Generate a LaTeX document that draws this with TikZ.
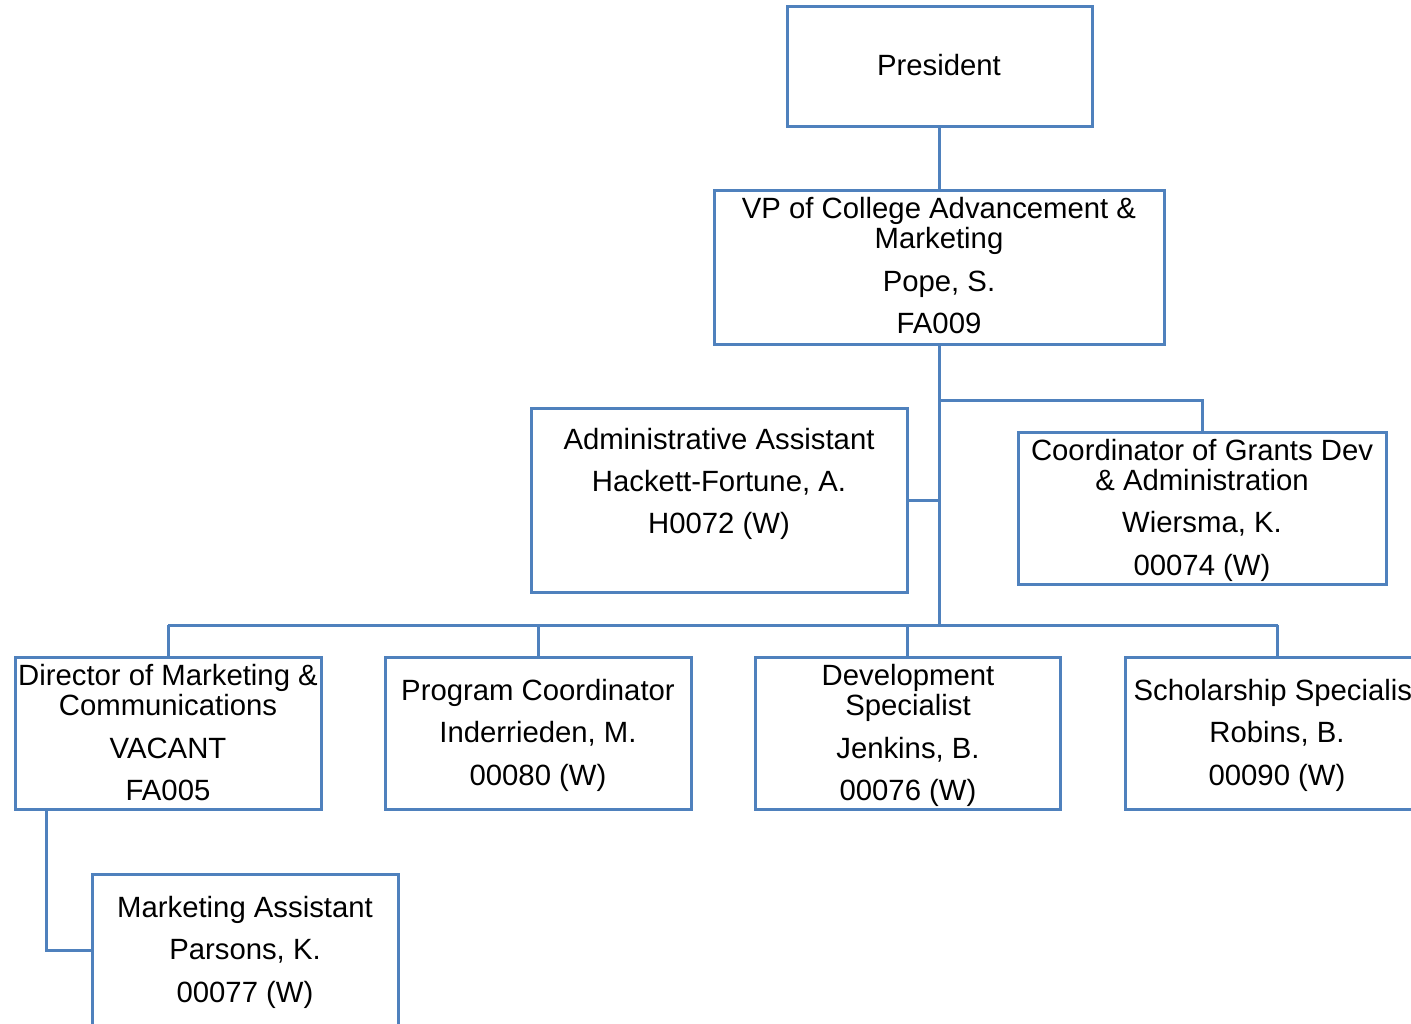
\documentclass[tikz,border=0pt]{standalone}
\usepackage{fontspec}
\setmainfont{Liberation Sans}
\definecolor{boxblue}{HTML}{4F81BD}
\begin{document}
\begin{tikzpicture}[x=1pt,y=-1pt,
  box/.style={draw=boxblue,line width=3pt,rectangle,inner sep=0pt,fill=white},
  conn/.style={draw=boxblue,line width=3pt},
  txt/.style={anchor=base,inner sep=0pt,font=\fontsize{29.3}{30}\selectfont,text=black}]
\useasboundingbox (0,0) rectangle (1411,1024);
\clip (0,0) rectangle (1411,1024);
% boxes
\newcommand{\orgbox}[5]{\node[box,minimum width={#4-#2},minimum height={#5-#3}] (#1) at ({(#2+#4)/2},{(#3+#5)/2}) {};}
\orgbox{pres}{787}{7}{1092}{127}
\orgbox{vp}{714}{191}{1164}{344}
\orgbox{adm}{531}{408}{907}{592}
\orgbox{coord}{1018}{432}{1386}{584}
\orgbox{dir}{15}{657}{321}{809}
\orgbox{prog}{385}{657}{691}{809}
\orgbox{dev}{755}{657}{1060}{809}
\orgbox{schol}{1125}{657}{1430}{809}
\orgbox{mkt}{92}{874}{398}{1040}
% helper coordinates
\coordinate (trunkA) at (vp.south |- 0,400);
\coordinate (trunkB) at (vp.south |- adm.east);
\coordinate (trunkC) at (vp.south |- 0,625);
\coordinate (busL) at (dir.north |- trunkC);
\coordinate (busR) at (schol.north |- trunkC);
\coordinate (mktin) at (92,950);
% connectors
\draw[conn] (pres.south) -- (pres.south |- vp.north);
\draw[conn] (vp.south) -- (trunkC);
\draw[conn] (trunkA) -| (coord.north);
\draw[conn] (adm.east) -- (trunkB);
\draw[conn] (busL) -- (busR);
\draw[conn] (busL) -- (dir.north);
\draw[conn] (prog.north |- trunkC) -- (prog.north);
\draw[conn] (dev.north |- trunkC) -- (dev.north);
\draw[conn] (busR) -- (schol.north);
\draw[conn] (dir.south -| 46,0) |- (mktin);
% texts
\node[txt] (t1) at (939,76) {President};
\node[txt] (t2) at (939,219) {VP of College Advancement \&};
\node[txt] (t3) at (939,249) {Marketing};
\node[txt] (t4) at (939,292) {Pope, S.};
\node[txt] (t5) at (939,334) {FA009};
\node[txt] (t6) at (719,449) {Administrative Assistant};
\node[txt] (t7) at (719,491) {Hackett-Fortune, A.};
\node[txt] (t8) at (719,533) {H0072 (W)};
\node[txt] (t9) at (1202,460) {Coordinator of Grants Dev};
\node[txt] (t10) at (1202,490) {\& Administration};
\node[txt] (t11) at (1202,532) {Wiersma, K.};
\node[txt] (t12) at (1202,575) {00074 (W)};
\node[txt] (t13) at (168,685) {Director of Marketing \&};
\node[txt] (t14) at (168,715) {Communications};
\node[txt] (t15) at (168,758) {VACANT};
\node[txt] (t16) at (168,800) {FA005};
\node[txt] (t17) at (538,700) {Program Coordinator};
\node[txt] (t18) at (538,742) {Inderrieden, M.};
\node[txt] (t19) at (538,785) {00080 (W)};
\node[txt] (t20) at (908,685) {Development};
\node[txt] (t21) at (908,715) {Specialist};
\node[txt] (t22) at (908,758) {Jenkins, B.};
\node[txt] (t23) at (908,800) {00076 (W)};
\node[txt] (t24) at (1277,700) {Scholarship Specialist};
\node[txt] (t25) at (1277,742) {Robins, B.};
\node[txt] (t26) at (1277,785) {00090 (W)};
\node[txt] (t27) at (245,917) {Marketing Assistant};
\node[txt] (t28) at (245,959) {Parsons, K.};
\node[txt] (t29) at (245,1002) {00077 (W)};
\end{tikzpicture}
\end{document}
